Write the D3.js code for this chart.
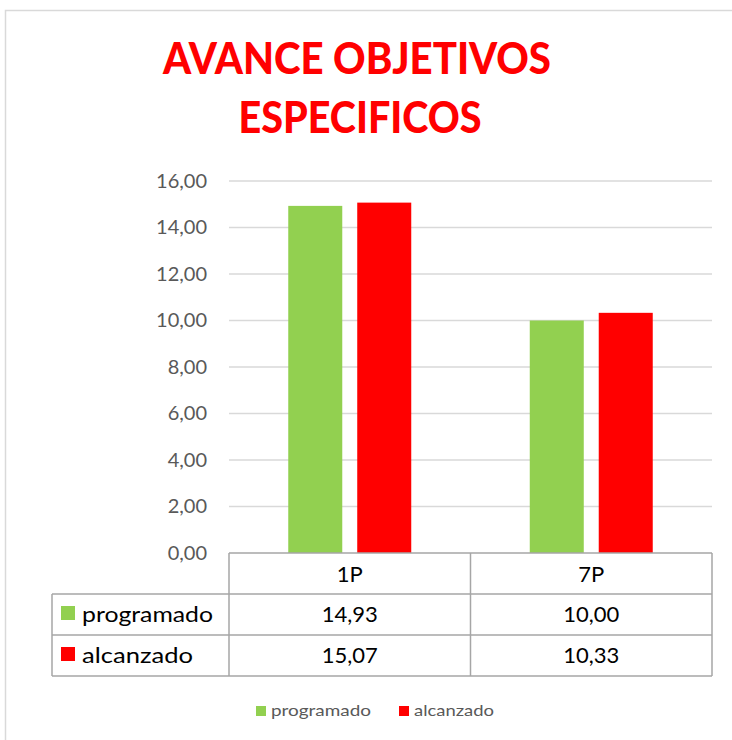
<!DOCTYPE html>
<html>
<head>
<meta charset="utf-8">
<script src="https://cdn.jsdelivr.net/npm/d3@7"></script>
<style>
  body { margin: 0; background: #fff; }
  text { font-family: Lato, "Open Sans", sans-serif; }
</style>
</head>
<body>
<div id="chart"></div>
<script>
var categories = ["1P", "7P"],
  series = ["programado", "alcanzado"],
  programado = [14.93, 10.00],
  alcanzado = [15.07, 10.33],
  yTicks = [0, 2, 4, 6, 8, 10, 12, 14, 16],
  titleLines = ["AVANCE OBJETIVOS", "ESPECIFICOS"];

var colors = { programado: "#92D050", alcanzado: "#FF0000" },
  values = { programado: programado, alcanzado: alcanzado };

var width = 732, height = 740,
  plot = { left: 229, right: 712, top: 181, bottom: 553 },
  rowH = 41,
  tableLeft = 52,
  lineColor = "#a6a6a6";

var locale = d3.formatLocale({ decimal: ",", thousands: ".", grouping: [3], currency: ["", ""] }),
  fmt = locale.format(".2f");

var svg = d3.select("#chart")
  .append("svg")
  .attr("width", width)
  .attr("height", height);

// chart frame (right and bottom edges fall outside the window)
svg.append("rect")
  .attr("x", 5.5).attr("y", 10.5)
  .attr("width", 760).attr("height", 760)
  .attr("fill", "#fff")
  .attr("stroke", "#d9d9d9")
  .attr("stroke-width", 1.5);

// title
svg.selectAll(".title")
  .data(titleLines)
  .enter().append("text")
  .attr("class", "title")
  .attr("x", function (d, i) { return i === 0 ? 357 : 360; })
  .attr("y", function (d, i) { return 74 + i * 59; })
  .attr("text-anchor", "middle")
  .attr("textLength", function (d, i) { return i === 0 ? 388 : 243; })
  .attr("lengthAdjust", "spacingAndGlyphs")
  .style("font-size", "43px")
  .style("font-weight", "900")
  .style("fill", "#FF0000")
  .text(function (d) { return d; });

var y = d3.scaleLinear()
  .domain([0, 16])
  .range([plot.bottom, plot.top]);

var x0 = d3.scaleBand()
  .domain(categories)
  .range([plot.left, plot.right]);

var x1 = d3.scaleBand()
  .domain(series)
  .range([0, x0.bandwidth()])
  .paddingInner(0.217)
  .paddingOuter(0.859);

// gridlines
svg.append("g")
  .selectAll("line")
  .data(yTicks.filter(function (d) { return d > 0; }))
  .enter().append("line")
  .attr("x1", plot.left).attr("x2", plot.right)
  .attr("y1", function (d) { return y(d); })
  .attr("y2", function (d) { return y(d); })
  .attr("stroke", "#d9d9d9")
  .attr("stroke-width", 1.5);

// y axis labels
var yAxis = svg.append("g")
  .attr("transform", "translate(" + (plot.left - 22) + ",0)")
  .call(d3.axisLeft(y).tickValues(yTicks).tickFormat(fmt).tickSize(0).tickPadding(0));
yAxis.select(".domain").remove();
yAxis.selectAll("text")
  .style("font-family", "Lato, 'Open Sans', sans-serif")
  .style("font-size", "20px")
  .style("fill", "#595959");

// bars
var groups = svg.append("g")
  .selectAll("g")
  .data(categories)
  .enter().append("g")
  .attr("transform", function (d) { return "translate(" + x0(d) + ",0)"; });

groups.selectAll("rect")
  .data(function (c, i) {
    return series.map(function (s) { return { s: s, v: values[s][i] }; });
  })
  .enter().append("rect")
  .attr("x", function (d) { return x1(d.s); })
  .attr("width", x1.bandwidth())
  .attr("y", function (d) { return y(d.v); })
  .attr("height", function (d) { return y(0) - y(d.v); })
  .attr("fill", function (d) { return colors[d.s]; });

// data table
var table = svg.append("g")
  .attr("stroke", lineColor)
  .attr("stroke-width", 1.5)
  .attr("fill", "none");

var tTop = plot.bottom;
table.append("line").attr("x1", plot.left).attr("x2", plot.right).attr("y1", tTop).attr("y2", tTop);
[1, 2, 3].forEach(function (r) {
  table.append("line")
    .attr("x1", tableLeft).attr("x2", plot.right)
    .attr("y1", tTop + r * rowH).attr("y2", tTop + r * rowH);
});
table.append("line").attr("x1", tableLeft).attr("x2", tableLeft).attr("y1", tTop + rowH).attr("y2", tTop + 3 * rowH);
x0.domain().forEach(function (c) {
  table.append("line").attr("x1", x0(c)).attr("x2", x0(c)).attr("y1", tTop).attr("y2", tTop + 3 * rowH);
});
table.append("line").attr("x1", plot.right).attr("x2", plot.right).attr("y1", tTop).attr("y2", tTop + 3 * rowH);

// header texts
svg.append("g")
  .selectAll("text")
  .data(categories)
  .enter().append("text")
  .attr("x", function (d) { return x0(d) + x0.bandwidth() / 2; })
  .attr("y", tTop + 29)
  .attr("text-anchor", "middle")
  .style("font-size", "22px")
  .style("fill", "#000")
  .text(function (d) { return d; });

// rows
series.forEach(function (s, r) {
  var rowY = tTop + (r + 1) * rowH;
  svg.append("rect")
    .attr("x", 61).attr("y", rowY + 12)
    .attr("width", 14).attr("height", 14)
    .attr("fill", colors[s]);
  svg.append("text")
    .attr("x", 82)
    .attr("y", rowY + 28)
    .attr("textLength", r === 0 ? 131 : 111)
    .attr("lengthAdjust", "spacingAndGlyphs")
    .style("font-size", "22px")
    .style("fill", "#000")
    .text(s);
  svg.append("g")
    .selectAll("text")
    .data(values[s])
    .enter().append("text")
    .attr("x", function (d, i) { return x0(categories[i]) + x0.bandwidth() / 2; })
    .attr("y", rowY + 28)
    .attr("text-anchor", "middle")
    .style("font-size", "22px")
    .style("fill", "#000")
    .text(function (d) { return fmt(d); });
});

// legend
var legend = svg.append("g")
  .selectAll("g")
  .data(series)
  .enter().append("g")
  .attr("transform", function (d, i) { return "translate(" + (i === 0 ? 256 : 399) + ",706)"; });
legend.append("rect")
  .attr("width", 10).attr("height", 10)
  .attr("fill", function (d) { return colors[d]; });
legend.append("text")
  .attr("x", 15)
  .attr("y", 10)
  .attr("textLength", function (d, i) { return i === 0 ? 100 : 80; })
  .attr("lengthAdjust", "spacingAndGlyphs")
  .style("font-size", "16px")
  .style("fill", "#595959")
  .text(function (d) { return d; });
</script>
</body>
</html>
